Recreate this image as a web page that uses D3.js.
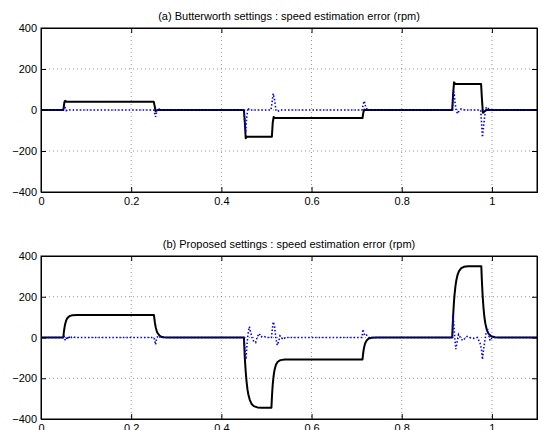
<!DOCTYPE html>
<html>
<head>
<meta charset="utf-8">
<script src="https://cdn.jsdelivr.net/npm/d3@7"></script>
<style>
  body { margin: 0; background: #fff; }
  svg { display: block; font-family: "Liberation Sans", Arial, sans-serif; }
</style>
</head>
<body>
<div id="chart"></div>
<script>
// tick values
var xTicks = [0, 0.2, 0.4, 0.6, 0.8, 1];
var yTicks = [-400, -200, 0, 200, 400];
var titles = [
  "(a) Butterworth settings : speed estimation error (rpm)",
  "(b) Proposed settings : speed estimation error (rpm)"
];

// (a) Butterworth: estimated error, [time s, rpm]
var blackA = [[0,0],[0.0495,0],[0.052,40],[0.054,45],[0.056,40],[0.25,40],[0.252,20],[0.254,-5],[0.256,-3],[0.26,0],
  [0.45,0],[0.452,-60],[0.454,-138],[0.456,-130],[0.512,-130],[0.514,-60],[0.516,-34],[0.519,-39],[0.713,-39],
  [0.715,-10],[0.717,2],[0.72,0],[0.912,0],[0.914,80],[0.916,135],[0.919,127],[0.976,127],[0.978,50],[0.98,-13],
  [0.983,-8],[0.987,0],[1.1,0]];
var blueA = [[0,0],[0.05,0],[0.052,20],[0.054,8],[0.056,-3],[0.06,2],[0.065,0],[0.25,0],[0.252,-15],[0.254,-33],
  [0.257,-5],[0.26,10],[0.264,0],[0.45,0],[0.452,-60],[0.454,-108],[0.456,-40],[0.459,10],[0.462,0],[0.51,0],
  [0.512,30],[0.515,80],[0.518,50],[0.521,0],[0.524,-8],[0.53,0],[0.712,0],[0.715,30],[0.717,44],[0.72,15],
  [0.724,0],[0.912,0],[0.914,50],[0.916,90],[0.918,40],[0.921,-5],[0.924,-18],[0.928,0],[0.932,5],[0.94,0],
  [0.975,0],[0.977,-60],[0.979,-133],[0.981,-90],[0.984,-30],[0.987,10],[0.99,15],[0.994,0],[1.1,0]];

// (b) Proposed settings
var blackB = [[0,0],[0.0495,0],[0.0505,22],[0.0515,40],[0.0525,53],[0.0535,65],[0.0555,81],[0.0575,92],[0.0605,100],
  [0.0645,106],[0.0695,109],[0.08,110],[0.2505,110],[0.2525,74],[0.2545,49],[0.2565,33],[0.2585,22],[0.2625,10],
  [0.2665,4],[0.2725,1],[0.28,0],[0.45,0],[0.452,-99],[0.454,-168],[0.456,-219],[0.458,-256],[0.46,-281],
  [0.463,-306],[0.467,-326],[0.472,-337],[0.48,-343],[0.49,-345],[0.511,-345],[0.512,-298],[0.513,-260],
  [0.514,-229],[0.516,-186],[0.518,-158],[0.521,-134],[0.525,-119],[0.531,-111],[0.541,-108],[0.713,-108],
  [0.714,-86],[0.715,-69],[0.716,-55],[0.718,-35],[0.72,-23],[0.723,-12],[0.727,-5],[0.733,-1],[0.743,0],
  [0.912,0],[0.913,57],[0.914,105],[0.915,145],[0.916,179],[0.917,207],[0.919,250],[0.921,280],[0.924,309],
  [0.927,326],[0.932,340],[0.938,347],[0.947,350],[0.9765,350],[0.9775,292],[0.9785,245],[0.9795,204],
  [0.9815,141],[0.9835,98],[0.9855,68],[0.9885,39],[0.9925,19],[0.9985,6],[1.0065,1],[1.0165,0],[1.1,0]];
var blueB = [[0,0],[0.049,0],[0.051,10],[0.053,-10],[0.055,-15],[0.058,5],[0.061,-8],[0.064,8],[0.068,0],[0.072,3],
  [0.076,0],[0.25,0],[0.252,-10],[0.254,-35],[0.256,-10],[0.259,8],[0.262,3],[0.266,0],[0.45,0],[0.452,-50],
  [0.4545,-108],[0.457,-30],[0.459,15],[0.462,53],[0.465,25],[0.468,0],[0.472,-20],[0.476,-25],[0.48,5],
  [0.484,20],[0.488,3],[0.493,8],[0.5,0],[0.511,0],[0.513,40],[0.515,77],[0.518,55],[0.521,-5],[0.524,-38],
  [0.527,-20],[0.53,8],[0.533,0],[0.537,-10],[0.542,0],[0.712,0],[0.714,40],[0.716,20],[0.719,8],[0.722,12],
  [0.727,0],[0.912,0],[0.914,110],[0.916,50],[0.918,-10],[0.92,-57],[0.923,-20],[0.926,15],[0.93,0],[0.935,-15],
  [0.94,-5],[0.945,5],[0.95,0],[0.96,-5],[0.968,0],[0.974,-30],[0.977,-60],[0.979,-108],[0.981,-70],[0.984,-20],
  [0.987,20],[0.99,45],[0.993,10],[0.996,-15],[1.0,-3],[1.005,0],[1.1,0]];

var W = 541, H = 430;
var left = 41, right = 537;
var panels = [
  { title: titles[0], top: 28, bottom: 192, black: blackA, blue: blueA },
  { title: titles[1], top: 256, bottom: 419, black: blackB, blue: blueB }
];

var svg = d3.select("#chart").append("svg")
  .attr("width", W)
  .attr("height", H);

var x = d3.scaleLinear().domain([0, 1.1]).range([left, right]);

panels.forEach(function (p, k) {
  var y = d3.scaleLinear().domain([-400, 400]).range([p.bottom, p.top]);
  var g = svg.append("g");

  g.append("clipPath").attr("id", "clip" + k)
    .append("rect")
    .attr("x", left).attr("y", p.top)
    .attr("width", right - left).attr("height", p.bottom - p.top);

  // dotted grid
  g.append("g").selectAll("line")
    .data(xTicks.filter(function (d) { return d > 0; }))
    .enter().append("line")
    .attr("x1", function (d) { return x(d); })
    .attr("x2", function (d) { return x(d); })
    .attr("y1", p.top).attr("y2", p.bottom)
    .attr("stroke", "#777").attr("stroke-width", 0.8)
    .attr("stroke-dasharray", "1,3");
  g.append("g").selectAll("line")
    .data(yTicks.filter(function (d) { return d > -400 && d < 400; }))
    .enter().append("line")
    .attr("x1", left).attr("x2", right)
    .attr("y1", function (d) { return y(d); })
    .attr("y2", function (d) { return y(d); })
    .attr("stroke", "#777").attr("stroke-width", 0.8)
    .attr("stroke-dasharray", "1,3");

  var line = d3.line()
    .x(function (d) { return x(d[0]); })
    .y(function (d) { return y(d[1]); });

  var plot = g.append("g").attr("clip-path", "url(#clip" + k + ")");
  plot.append("path")
    .datum(p.black)
    .attr("d", line)
    .attr("fill", "none")
    .attr("stroke", "#000")
    .attr("stroke-width", 2)
    .attr("stroke-linejoin", "round");
  plot.append("path")
    .datum(p.blue)
    .attr("d", line)
    .attr("fill", "none")
    .attr("stroke", "#0000ff")
    .attr("stroke-width", 1.6)
    .attr("stroke-dasharray", "1.5,2");

  // axes with inward ticks on all sides
  var xAxis = d3.axisBottom(x).tickValues(xTicks).tickSize(-5).tickPadding(5)
    .tickFormat(d3.format("~g"));
  var yAxis = d3.axisLeft(y).tickValues(yTicks).tickSize(-5).tickPadding(4);

  g.append("g").attr("transform", "translate(0," + p.bottom + ")").call(xAxis);
  g.append("g").attr("transform", "translate(" + left + ",0)").call(yAxis);
  g.append("g").attr("transform", "translate(0," + p.top + ")")
    .call(d3.axisTop(x).tickValues(xTicks).tickSize(-5).tickFormat(""));
  g.append("g").attr("transform", "translate(" + right + ",0)")
    .call(d3.axisRight(y).tickValues(yTicks).tickSize(-5).tickFormat(""));

  g.selectAll(".domain").attr("stroke", "#000").attr("stroke-width", 1);
  g.selectAll(".tick line").attr("stroke", "#000");
  g.selectAll(".tick text").attr("font-size", 11).attr("fill", "#000")
    .attr("font-family", "Liberation Sans, Arial, sans-serif");

  g.append("rect")
    .attr("x", left).attr("y", p.top)
    .attr("width", right - left).attr("height", p.bottom - p.top)
    .attr("fill", "none").attr("stroke", "#000").attr("stroke-width", 1);

  g.append("text")
    .attr("x", (left + right) / 2)
    .attr("y", p.top - 8)
    .attr("text-anchor", "middle")
    .attr("font-size", 11)
    .text(p.title);
});
</script>
</body>
</html>
